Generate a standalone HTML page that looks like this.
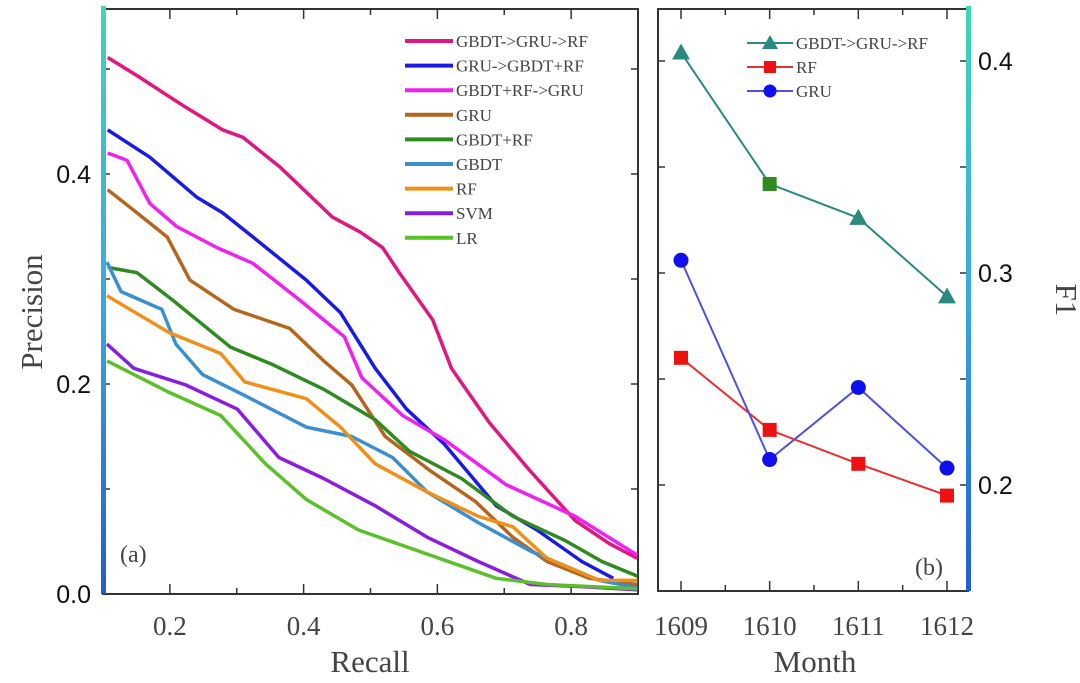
<!DOCTYPE html>
<html><head><meta charset="utf-8"><style>
html,body{margin:0;padding:0;background:#fff;}
svg{display:block;}
.ser{font-family:"Liberation Serif",serif;fill:#444;}
.san{font-family:"Liberation Sans",sans-serif;fill:#111;}
</style></head><body>
<svg id="chart" width="1080" height="683" viewBox="0 0 1080 683" xmlns="http://www.w3.org/2000/svg">
<defs>
<linearGradient id="axg" x1="0" y1="0" x2="0" y2="1">
<stop offset="0" stop-color="#3fd6b0"/><stop offset="0.5" stop-color="#3aa8e0"/><stop offset="1" stop-color="#1f5fd0"/>
</linearGradient>
</defs>
<g id="left"></g>
<g id="right"></g>
</svg>
<script>
// ---- Panel (a) data ----
const prNames = ["GBDT->GRU->RF","GRU->GBDT+RF","GBDT+RF->GRU","GRU","GBDT+RF","GBDT","RF","SVM","LR"];
const prColors = ["#e0177f","#1a1ae6","#f020f0","#b5651d","#2e8b20","#3a8fd0","#f0901a","#8a1ee0","#5cc02a"];
const recGBDTGRURF = [.107,.155,.196,.225,.279,.309,.364,.443,.484,.518,.543,.593,.621,.678,.739,.806,.857,.899];
const preGBDTGRURF = [.511,.492,.475,.463,.442,.435,.407,.359,.345,.330,.306,.261,.215,.163,.117,.070,.048,.034];
const recGRUGBDTRF = [.107,.170,.240,.279,.330,.404,.455,.507,.554,.610,.688,.749,.816,.863];
const preGRUGBDTRF = [.442,.416,.378,.363,.337,.299,.268,.215,.176,.143,.084,.061,.031,.015];
const recGBDTRFGRU = [.107,.136,.170,.210,.270,.324,.394,.430,.461,.487,.548,.610,.703,.806,.899];
const preGBDTRFGRU = [.420,.413,.372,.350,.330,.315,.280,.261,.245,.206,.170,.147,.104,.074,.037];
const recGRU = [.107,.145,.196,.230,.296,.379,.430,.472,.522,.590,.657,.713,.764,.827,.899];
const preGRU = [.385,.366,.340,.299,.271,.253,.222,.199,.150,.117,.088,.054,.031,.015,.009];
const recGBDTRF = [.107,.151,.204,.291,.352,.430,.507,.558,.636,.713,.791,.846,.899];
const preGBDTRF = [.311,.306,.280,.235,.219,.195,.166,.136,.110,.074,.051,.031,.017];
const recGBDT = [.106,.127,.188,.209,.249,.312,.404,.472,.533,.585,.661,.739,.842,.899];
const preGBDT = [.316,.288,.271,.238,.209,.189,.159,.150,.130,.097,.068,.041,.013,.006];
const recRF = [.106,.199,.276,.312,.404,.455,.507,.585,.661,.713,.764,.842,.899];
const preRF = [.284,.249,.229,.202,.186,.159,.124,.097,.074,.064,.034,.013,.013];
const recSVM = [.106,.146,.224,.301,.363,.430,.507,.585,.661,.739,.816,.899];
const preSVM = [.238,.215,.199,.176,.130,.110,.084,.054,.031,.009,.007,.004];
const recLR = [.106,.199,.276,.343,.404,.482,.585,.688,.764,.899];
const preLR = [.222,.192,.170,.124,.090,.061,.038,.015,.009,.005];
const prRec = [recGBDTGRURF,recGRUGBDTRF,recGBDTRFGRU,recGRU,recGBDTRF,recGBDT,recRF,recSVM,recLR];
const prPre = [preGBDTGRURF,preGRUGBDTRF,preGBDTRFGRU,preGRU,preGBDTRF,preGBDT,preRF,preSVM,preLR];
const xTicksA = [0.2,0.4,0.6,0.8];
const yTicksA = [0.0,0.2,0.4];
// ---- Panel (b) data ----
const months = ["1609","1610","1611","1612"];
const f1Ensemble = [0.404,0.342,0.326,0.289];
const f1RF = [0.260,0.226,0.210,0.195];
const f1GRU = [0.306,0.212,0.246,0.208];
const yTicksB = [0.2,0.3,0.4];

const NS="http://www.w3.org/2000/svg";
function mk(tag,attrs,parent,text){const e=document.createElementNS(NS,tag);for(const k in attrs)e.setAttribute(k,attrs[k]);if(text!==undefined)e.textContent=text;parent.appendChild(e);return e;}

// Panel A scales
const AL=103,AR=638,AT=9,AB=594;
const xA=r=>AL+(r-0.1)/(0.9-0.1)*(AR-AL);
const yA=p=>AB-p*1050;
const gA=document.getElementById('left');
const frameA=mk('rect',{x:AL,y:AT,width:AR-AL,height:AB-AT,fill:'none',stroke:'#333','stroke-width':2},gA);


for(let v=0.1;v<=0.85;v+=0.1){const x=xA(v);const major=Math.abs((v*10)%2)<0.01||Math.abs((v*10)%2-2)<0.01;const L=(Math.round(v*10)%2===0)?10:6;
 const t=mk('line',{x1:x,y1:AB,x2:x,y2:AB-L,stroke:'#333','stroke-width':1.5},gA);
 const t2=mk('line',{x1:x,y1:AT,x2:x,y2:AT+L,stroke:'#333','stroke-width':1.5},gA);}
for(let v=0.1;v<=0.55;v+=0.1){const y=yA(v);
 const t=mk('line',{x1:AR,y1:y,x2:AR-7,y2:y,stroke:'#333','stroke-width':1.5},gA);
 const t3=mk('line',{x1:AL,y1:y,x2:AL+7,y2:y,stroke:'#333','stroke-width':1.5},gA);}
xTicksA.forEach(v=>{const t=mk('text',{x:xA(v),y:635,'text-anchor':'middle','font-size':27,class:'ser'},gA,v.toFixed(1));});
yTicksA.forEach(v=>{const t=mk('text',{x:91,y:yA(v)+9,'text-anchor':'end','font-size':25,class:'san'},gA,v.toFixed(1));});
// series
prRec.forEach((rs,i)=>{const pts=rs.map((r,j)=>xA(r).toFixed(1)+','+yA(prPre[i][j]).toFixed(1)).join(' ');
 const l=mk('polyline',{points:pts,fill:'none',stroke:prColors[i],'stroke-width':3.5,'stroke-linejoin':'round'},gA);
 
 });
// legend
prNames.forEach((n,i)=>{const y=41+i*24.6;
 const g=mk('g',{},gA);
 
 
 mk('line',{x1:405,y1:y,x2:453,y2:y,stroke:prColors[i],'stroke-width':4},g);
 mk('text',{x:456,y:y+6,'font-size':17,class:'ser'},g,n);});
const la=mk('text',{x:120,y:562,'font-size':24,class:'ser'},gA,'(a)');
const axA=mk('rect',{x:101,y:6,width:5,height:AB-6,fill:'url(#axg)'},gA);
const xt=mk('text',{x:370,y:672,'text-anchor':'middle','font-size':31,class:'ser'},gA,'Recall');
const yt=mk('text',{x:0,y:0,'text-anchor':'middle','font-size':31,class:'ser',transform:'translate(42,312) rotate(-90)'},gA,'Precision');

// Panel B
const BL=658,BR=968,BT=9,BB=591;
const xB=i=>681+i*(947-681)/3;
const yB=v=>485-(v-0.2)*2120;
const gB=document.getElementById('right');
const frameB=mk('rect',{x:BL,y:BT,width:BR-BL,height:BB-BT,fill:'none',stroke:'#333','stroke-width':2},gB);


for(let i=0;i<=6;i++){const x=681+i*(947-681)/6;const L=i%2===0?10:6;
 mk('line',{x1:x,y1:BB,x2:x,y2:BB-L,stroke:'#333','stroke-width':1.5},gB);
 mk('line',{x1:x,y1:BT,x2:x,y2:BT+L,stroke:'#333','stroke-width':1.5},gB);}
for(let v=0.15;v<=0.42;v+=0.05){const y=yB(v);
 mk('line',{x1:BL,y1:y,x2:BL+7,y2:y,stroke:'#333','stroke-width':1.5},gB);
 mk('line',{x1:BR,y1:y,x2:BR-8,y2:y,stroke:'#333','stroke-width':1.5},gB);}
months.forEach((m,i)=>{const t=mk('text',{x:xB(i),y:635,'text-anchor':'middle','font-size':27,class:'ser'},gB,m);});
yTicksB.forEach(v=>{const t=mk('text',{x:978,y:yB(v)+9,'font-size':25,class:'san'},gB,v.toFixed(1));});
const axB=mk('rect',{x:966,y:6,width:5,height:BB-6,fill:'url(#axg)'},gB);
function line(vals,col,w){return mk('polyline',{points:vals.map((v,i)=>xB(i)+','+yB(v)).join(' '),fill:'none',stroke:col,'stroke-width':w},gB);}
const le=line(f1Ensemble,'#2a8a80',2);
const lr=line(f1RF,'#e83030',2);
const lg=line(f1GRU,'#5050e0',2);
function tri(x,y,c){return mk('polygon',{points:`${x},${y-9} ${x-9},${y+7} ${x+9},${y+7}`,fill:c},gB);}
f1Ensemble.forEach((v,i)=>{let m;if(i===1)m=mk('rect',{x:xB(i)-7,y:yB(v)-7,width:14,height:14,fill:'#2e8b20'},gB);else m=tri(xB(i),yB(v),'#2a8a80');
 
 });
f1RF.forEach((v,i)=>{const m=mk('rect',{x:xB(i)-7,y:yB(v)-7,width:14,height:14,fill:'#ee1111'},gB);
 
 });
f1GRU.forEach((v,i)=>{const m=mk('circle',{cx:xB(i),cy:yB(v),r:7.5,fill:'#1010ee'},gB);
 
 });
// legend b
const lgB=[["GBDT->GRU->RF",'#2a8a80','tri'],["RF",'#e83030','sq'],["GRU",'#5050e0','ci']];
lgB.forEach((e,i)=>{const y=43+i*24;const g=mk('g',{},gB);
 
 
 mk('line',{x1:747,y1:y,x2:793,y2:y,stroke:e[1],'stroke-width':2},g);
 if(e[2]==='tri')mk('polygon',{points:`770,${y-8} 762,${y+6} 778,${y+6}`,fill:'#2a8a80'},g);
 else if(e[2]==='sq')mk('rect',{x:764,y:y-6,width:12,height:12,fill:'#ee1111'},g);
 else mk('circle',{cx:770,cy:y,r:6.5,fill:'#1010ee'},g);
 mk('text',{x:796,y:y+6,'font-size':17,class:'ser'},g,e[0]);});
const lb=mk('text',{x:915,y:575,'font-size':24,class:'ser'},gB,'(b)');
const mt=mk('text',{x:815,y:672,'text-anchor':'middle','font-size':31,class:'ser'},gB,'Month');
const ft=mk('text',{x:0,y:0,'text-anchor':'middle','font-size':31,class:'ser',transform:'translate(1056,300) rotate(90)'},gB,'F1');
</script>
</body></html>
